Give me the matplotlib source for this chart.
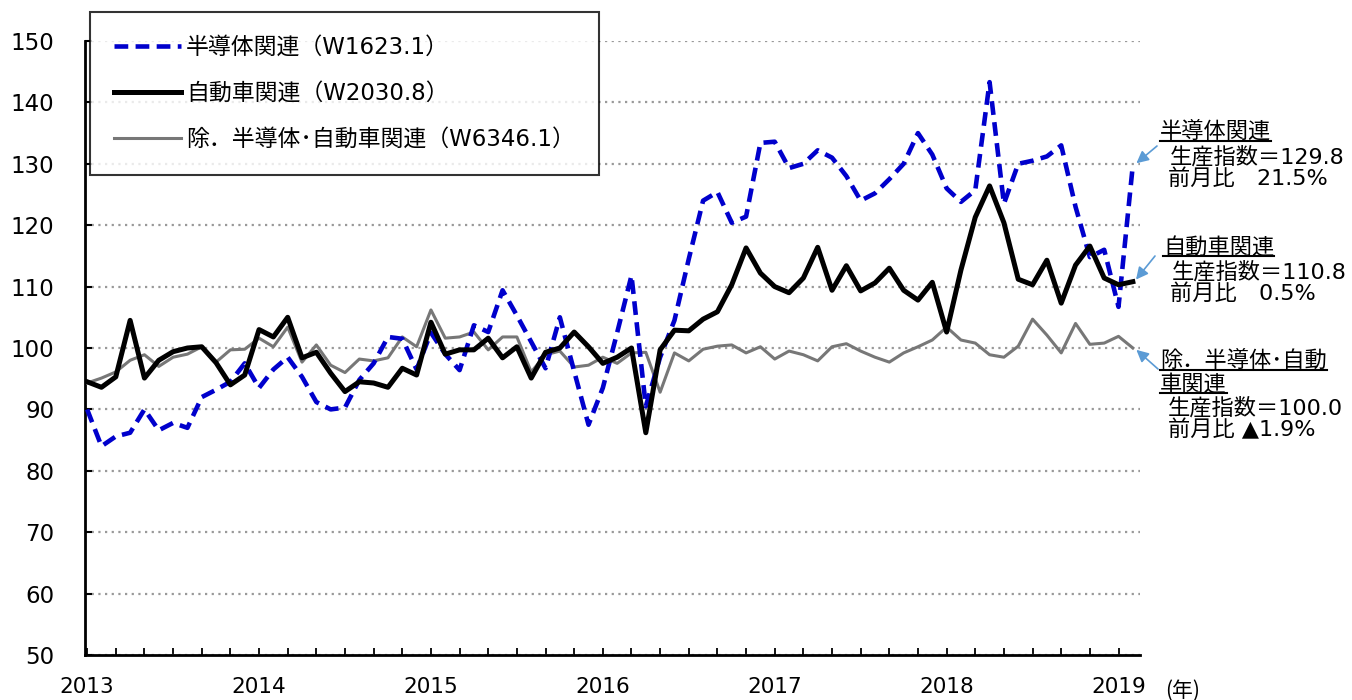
import numpy as np
import matplotlib
matplotlib.use("Agg")
import matplotlib.pyplot as plt
from matplotlib.lines import Line2D
from matplotlib.ticker import FixedLocator

# ---------------- data ----------------
years = ['2013', '2014', '2015', '2016', '2017', '2018', '2019']

semi = [90, 84, 85.6, 86.2, 90, 86.6, 87.8, 87, 92, 93.2, 94.5, 97.5,
        93.5, 96.5, 98.5, 95.3, 91.2, 90, 90.3, 94.8, 97.5, 101.8, 101.5, 96.5,
        102.5, 99, 96.4, 103.7, 102.6, 109.4, 105.3, 101, 96.7, 105, 96.2, 87.5,
        93.5, 102.5, 111.8, 90.5, 98.5, 104.5, 114.5, 124, 125.4, 120.4, 121.4, 133.4,
        133.6, 129.3, 130, 132.2, 131, 128, 124, 125.2, 127.5, 130, 135, 131.5,
        126, 123.8, 125.7, 143.3, 123.5, 130, 130.5, 131.2, 133, 123, 114.8, 116, 106.7, 129.8]

auto = [94.5, 93.6, 95.3, 104.5, 95.1, 98, 99.4, 100, 100.2, 97.6, 94, 95.6,
        103, 101.8, 105, 98.4, 99.3, 95.9, 92.9, 94.5, 94.3, 93.6, 96.7, 95.6,
        104.2, 99, 99.7, 99.7, 101.6, 98.4, 100.2, 95.1, 99.3, 100, 102.6, 100.2,
        97.5, 98.5, 100, 86.2, 99.7, 102.9, 102.8, 104.7, 105.9, 110.3, 116.3, 112.2,
        110, 109, 111.4, 116.4, 109.4, 113.4, 109.3, 110.6, 113, 109.4, 107.8, 110.7,
        102.6, 112.7, 121.3, 126.4, 120.4, 111.2, 110.3, 114.3, 107.3, 113.5, 116.6, 111.4, 110.3, 110.8]

other = [94.3, 95.1, 96.1, 98, 98.9, 97, 98.5, 99, 100.2, 97.7, 99.7, 99.8,
         101.6, 100.2, 103.4, 97.7, 100.5, 97.2, 96, 98.2, 97.9, 98.4, 101.8, 100.2,
         106.2, 101.6, 101.8, 102.6, 99.7, 101.8, 101.8, 96.1, 98.9, 99.5, 96.9, 97.2,
         98.5, 97.5, 99.2, 99.3, 92.8, 99.2, 97.9, 99.8, 100.3, 100.5, 99.2, 100.2,
         98.2, 99.5, 98.9, 97.9, 100.2, 100.7, 99.5, 98.5, 97.7, 99.2, 100.2, 101.3,
         103.4, 101.3, 100.8, 98.9, 98.5, 100.3, 104.7, 102.1, 99.2, 104, 100.6, 100.8, 101.9, 100]

labels = ['半導体関連（W1623.1）', '自動車関連（W2030.8）', '除．半導体･自動車関連（W6346.1）']

# ---------------- figure ----------------
W, H = 1352, 700
plt.rcParams['font.family'] = ['DejaVu Sans']
JP = ['DejaVu Sans', 'Noto Sans CJK JP']

fig = plt.figure(figsize=(W / 100, H / 100), dpi=100)
ax = fig.add_axes([85 / W, 1 - 655 / H, (1140 - 85) / W, (655 - 41) / H])

BLUE_DASH = (0, (3.0, 1.6))
x = np.arange(len(semi))
ax.plot(x, other, color='#777777', lw=2.2, zorder=3)
ax.plot(x, semi, color='#0000CC', lw=3.3, linestyle=BLUE_DASH, zorder=4)
ax.plot(x, auto, color='black', lw=3.6, zorder=5)

ax.set_xlim(-0.15, 73.5)
ax.set_ylim(50, 150)
ax.set_yticks(np.arange(50, 151, 10))
ax.grid(axis='y', color='#999999', linestyle=(0, (1, 2)), lw=1.6)
ax.set_axisbelow(True)

ax.xaxis.set_major_locator(FixedLocator(np.arange(0, 73, 12)))
ax.set_xticklabels(years)
ax.xaxis.set_minor_locator(FixedLocator(np.arange(0, 74, 2)))

for s in ['top', 'right']:
    ax.spines[s].set_visible(False)
for s in ['left', 'bottom']:
    ax.spines[s].set_linewidth(2.0)

ax.tick_params(axis='y', direction='in', length=5, width=1.5, pad=22, labelsize=16.5)
ax.tick_params(axis='x', which='both', direction='in', length=5, width=1.3, pad=16, labelsize=15.5)

fig.text(1165 / W, 1 - 691 / H, '(年)', fontsize=15, family=['Noto Sans CJK JP'], va='center', ha='left')

# legend
handles = [Line2D([], [], color='#0000CC', lw=3.3, linestyle=BLUE_DASH),
           Line2D([], [], color='black', lw=3.6),
           Line2D([], [], color='#777777', lw=2.2)]
leg = fig.legend(handles, labels, loc='upper left', bbox_to_anchor=(90 / W, 1 - 12 / H),
                 prop={'family': JP, 'size': 16.5}, frameon=True, fancybox=False,
                 edgecolor='black', handlelength=2.9, handletextpad=0.25,
                 borderpad=1.05, labelspacing=1.0, borderaxespad=0)
leg.get_frame().set_linewidth(1.5)

# annotations on the right
arrow_c = '#5B9BD5'
def px(xp, yp):
    return (xp / W, 1 - yp / H)

blocks = [
    (semi[-1], (1157, 146), [('半導体関連', 1160, 131, True), ('生産指数＝129.8', 1170, 157, False), ('前月比　21.5%', 1168, 179, False)]),
    (auto[-1], (1155, 256), [('自動車関連', 1163, 247, True), ('生産指数＝110.8', 1172, 272, False), ('前月比　0.5%', 1170, 294, False)]),
    (other[-1], (1158, 369), [('除．半導体･自動', 1160, 360, True), ('車関連', 1160, 384, True), ('生産指数＝100.0', 1168, 408, False), ('前月比 ▲1.9%', 1168, 430, False)]),
]

underline_texts = []
for val, tail, lines in blocks:
    ax.annotate('', xy=(x[-1] + 0.1, val), xycoords='data',
                xytext=(tail[0], H - tail[1]), textcoords='figure pixels',
                arrowprops=dict(arrowstyle='-|>', color=arrow_c, lw=1.2, mutation_scale=18,
                                shrinkA=0, shrinkB=2),
                annotation_clip=False)
    for txt, xp, yp, ul in lines:
        t = fig.text(*px(xp, yp), txt, fontsize=16, family=JP, va='center', ha='left')
        if ul:
            underline_texts.append(t)

fig.canvas.draw()
r = fig.canvas.get_renderer()
for t in underline_texts:
    bb = t.get_window_extent(renderer=r)
    yl = bb.y0 + 1
    fig.add_artist(Line2D([bb.x0 / W, bb.x1 / W], [yl / H, yl / H], transform=fig.transFigure,
                          color='black', lw=1.5))

fig.savefig('out.png', dpi=100)
